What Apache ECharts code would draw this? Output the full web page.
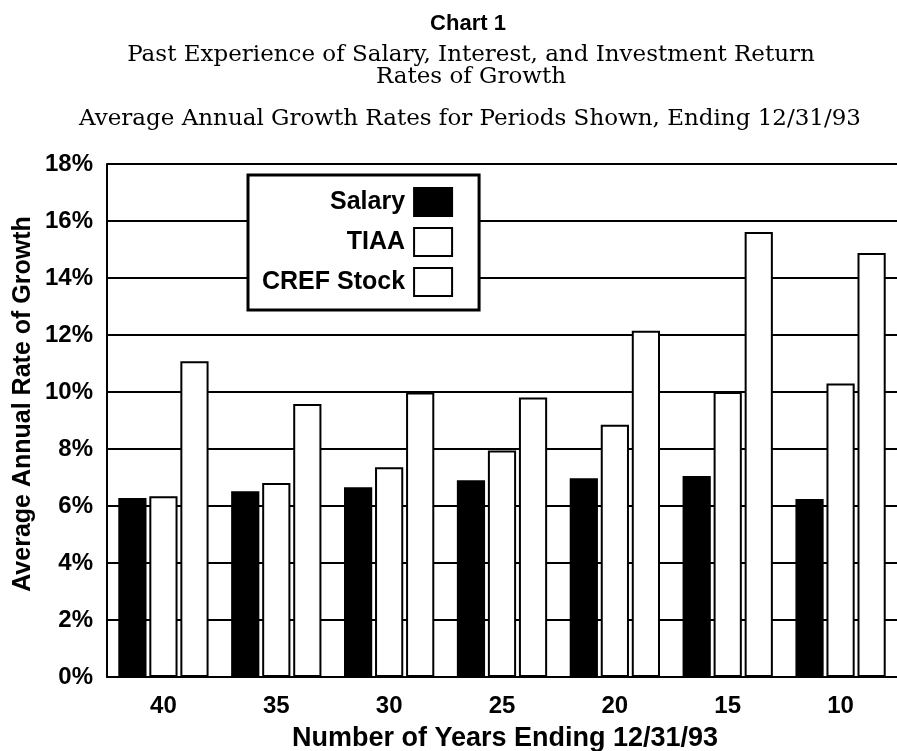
<!DOCTYPE html>
<html>
<head>
<meta charset="utf-8">
<script src="https://cdn.jsdelivr.net/npm/echarts@6/dist/echarts.min.js"></script>
<style>
  html, body { margin: 0; padding: 0; background: #fff; }
  #main { width: 897px; height: 751px; }
</style>
</head>
<body>
<div id="main"></div>
<script>
// periods (years ending 12/31/93)
var years = ['40', '35', '30', '25', '20', '15', '10'];
// average annual growth, %
var salary = [6.28, 6.52, 6.66, 6.90, 6.97, 7.05, 6.25];
var tiaa   = [6.34, 6.81, 7.36, 7.95, 8.85, 10.0, 10.3];
var cref   = [11.08, 9.58, 9.98, 9.81, 12.15, 15.61, 14.88];
var yTicks = [0, 2, 4, 6, 8, 10, 12, 14, 16, 18];

var sans = '"Liberation Sans", Arial, sans-serif';
var serif = '"DejaVu Serif", serif';

var chart = echarts.init(document.getElementById('main'));

var barBorder = { borderColor: '#000', borderWidth: 2 };

var option = {
    backgroundColor: '#fff',
    animation: false,
    graphic: [
        {
            type: 'text', x: 468, y: 24,
            style: { text: 'Chart 1', font: 'bold 22px ' + sans, fill: '#000',
                     textAlign: 'center', textVerticalAlign: 'middle' }
        },
        {
            type: 'text', x: 471, y: 55,
            style: { text: 'Past Experience of Salary, Interest, and Investment Return', font: '23px ' + serif,
                     fill: '#000', textAlign: 'center', textVerticalAlign: 'middle' }
        },
        {
            type: 'text', x: 471, y: 77,
            style: { text: 'Rates of Growth', font: '23px ' + serif,
                     fill: '#000', textAlign: 'center', textVerticalAlign: 'middle' }
        },
        {
            type: 'text', x: 470, y: 119,
            style: { text: 'Average Annual Growth Rates for Periods Shown, Ending 12/31/93', font: '23px ' + serif,
                     fill: '#000', textAlign: 'center', textVerticalAlign: 'middle' }
        },
        // axis titles are a bit off the plot centre in the original, so place them by hand
        {
            type: 'text', x: 23, y: 404, rotation: Math.PI / 2,
            style: { text: 'Average Annual Rate of Growth', font: 'bold 25px ' + sans, fill: '#000',
                     textAlign: 'center', textVerticalAlign: 'middle' }
        },
        {
            type: 'text', x: 505, y: 739,
            style: { text: 'Number of Years Ending 12/31/93', font: 'bold 27px ' + sans, fill: '#000',
                     textAlign: 'center', textVerticalAlign: 'middle' }
        }
    ],
    legend: {
        orient: 'vertical',
        align: 'right',
        left: 248,
        top: 175,
        padding: [12, 26, 13, 14],
        backgroundColor: '#fff',
        borderColor: '#000',
        borderWidth: 3,
        borderRadius: 0,
        itemWidth: 38,
        itemHeight: 28,
        itemGap: 10,
        icon: 'rect',
        textStyle: { fontFamily: sans, fontWeight: 'bold', fontSize: 25, color: '#000', padding: [0, 4, 0, 0] },
        data: ['Salary', 'TIAA', 'CREF Stock']
    },
    grid: { left: 107, right: 0, top: 164, bottom: 74, containLabel: false },
    xAxis: {
        type: 'category',
        data: years,
        axisLine: { show: true, lineStyle: { color: '#000', width: 2 } },
        axisTick: { show: false },
        axisLabel: { fontFamily: sans, fontWeight: 'bold', fontSize: 24, color: '#000', margin: 17 }
    },
    yAxis: {
        type: 'value',
        min: yTicks[0],
        max: yTicks[yTicks.length - 1],
        interval: 2,
        axisLine: { show: true, lineStyle: { color: '#000', width: 2 } },
        axisTick: { show: false },
        axisLabel: { formatter: '{value}%', fontFamily: sans, fontWeight: 'bold', fontSize: 24, color: '#000', margin: 14 },
        splitLine: { show: true, lineStyle: { color: '#000', width: 2 } }
    },
    series: [
        {
            name: 'Salary', type: 'bar', data: salary,
            barGap: '10%', barCategoryGap: '20%',
            itemStyle: Object.assign({ color: '#000' }, barBorder)
        },
        {
            name: 'TIAA', type: 'bar', data: tiaa,
            itemStyle: Object.assign({ color: '#fff' }, barBorder)
        },
        {
            name: 'CREF Stock', type: 'bar', data: cref,
            itemStyle: Object.assign({ color: '#fff' }, barBorder)
        }
    ]
};

chart.setOption(option);
</script>
</body>
</html>
